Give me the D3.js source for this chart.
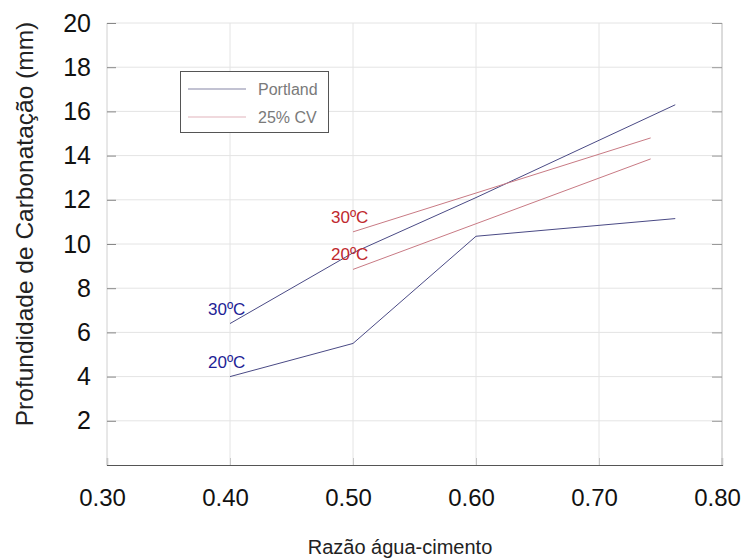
<!DOCTYPE html>
<html><head><meta charset="utf-8">
<script src="https://cdn.jsdelivr.net/npm/d3@7"></script>
<style>body{margin:0;background:#fff}svg{display:block}text{font-family:"Liberation Sans",Arial,sans-serif}</style>
</head><body>
<script>
const xTicks = [0.30, 0.40, 0.50, 0.60, 0.70, 0.80];
const yTicks = [2, 4, 6, 8, 10, 12, 14, 16, 18, 20];
const xPortland = [0.40, 0.50, 0.60, 0.762];
const portland30 = [6.4, 9.6, 12.1, 16.3];
const portland20 = [4.0, 5.5, 10.35, 11.15];
const xCV = [0.50, 0.742];
const cv30 = [10.55, 14.8];
const cv20 = [8.85, 13.85];
const seriesNames = ["Portland", "25% CV"];
const curveLabels = ["30ºC", "20ºC", "30ºC", "20ºC"];

const W = 745, H = 560;
const svg = d3.select("body").append("svg").attr("width", W).attr("height", H);
const x = d3.scaleLinear().domain([0.3, 0.8]).range([107, 722]);
const y = d3.scaleLinear().domain([0, 20]).range([465, 23]);

const gridColor = "#e4e4e4";
svg.append("g").selectAll("line").data(yTicks).join("line")
  .attr("x1", x(0.3)).attr("x2", x(0.8))
  .attr("y1", d => y(d)).attr("y2", d => y(d))
  .attr("stroke", gridColor).attr("stroke-width", 1);
svg.append("g").selectAll("line").data(xTicks.slice(1, -1)).join("line")
  .attr("x1", d => x(d)).attr("x2", d => x(d))
  .attr("y1", y(0)).attr("y2", y(20))
  .attr("stroke", gridColor).attr("stroke-width", 1);

svg.append("line").attr("x1", x(0.3)).attr("x2", x(0.3)).attr("y1", y(0)).attr("y2", y(20)).attr("stroke", "#d0d0d0");
svg.append("line").attr("x1", x(0.8)).attr("x2", x(0.8)).attr("y1", y(0)).attr("y2", y(20)).attr("stroke", "#b8b8b8");

const yAxis = d3.axisLeft(y).tickValues(yTicks).tickSize(-9).tickPadding(16).tickFormat(d3.format("d"));
const gy = svg.append("g").attr("transform", `translate(${x(0.3)},0)`).call(yAxis);
gy.select(".domain").remove();
gy.selectAll(".tick line").attr("stroke", "#888");
gy.selectAll(".tick text").attr("font-size", 25).attr("fill", "#111").attr("font-family", "Liberation Sans, Arial, sans-serif");

const yAxisR = d3.axisRight(y).tickValues(yTicks).tickSize(-10).tickFormat("");
const gyr = svg.append("g").attr("transform", `translate(${x(0.8)},0)`).call(yAxisR);
gyr.select(".domain").remove();
gyr.selectAll(".tick line").attr("stroke", "#999");

const xAxis = d3.axisBottom(x).tickValues(xTicks).tickSize(-7).tickPadding(24).tickFormat(d3.format(".2f"));
const gx = svg.append("g").attr("transform", `translate(0,${y(0)})`).call(xAxis);
gx.select(".domain").attr("stroke", "#555").attr("stroke-width", 1.2);
gx.selectAll(".tick line").attr("stroke", "#c8c8c8");
gx.selectAll(".tick text").attr("font-size", 24).attr("fill", "#111").attr("dx", -5).attr("font-family", "Liberation Sans, Arial, sans-serif");

svg.append("text").attr("x", 400).attr("y", 554).attr("text-anchor", "middle")
  .attr("font-size", 20).attr("fill", "#222").text("Razão água-cimento");
svg.append("text").attr("transform", "translate(33,224) rotate(-90)").attr("text-anchor", "middle")
  .attr("font-size", 24.5).attr("fill", "#222").text("Profundidade de Carbonatação (mm)");

const colP = "#4a4a85", colC = "#c87a84";
const line = d3.line().x(d => x(d[0])).y(d => y(d[1]));
const series = [
  {xs: xPortland, ys: portland30, color: colP, lab: curveLabels[0], labColor: "#1e1e96"},
  {xs: xPortland, ys: portland20, color: colP, lab: curveLabels[1], labColor: "#1e1e96"},
  {xs: xCV, ys: cv30, color: colC, lab: curveLabels[2], labColor: "#c0282e"},
  {xs: xCV, ys: cv20, color: colC, lab: curveLabels[3], labColor: "#c0282e"}
];
series.forEach(s => {
  const pts = s.xs.map((v, i) => [v, s.ys[i]]);
  svg.append("path").attr("d", line(pts)).attr("fill", "none")
    .attr("stroke", s.color).attr("stroke-width", 1);
  svg.append("text").attr("x", x(s.xs[0]) - 22).attr("y", y(s.ys[0]) - 9)
    .attr("font-size", 17).attr("fill", s.labColor).text(s.lab);
});

const lg = svg.append("g");
lg.append("rect").attr("x", 180.5).attr("y", 71.5).attr("width", 148).attr("height", 61)
  .attr("fill", "#fff").attr("stroke", "#555").attr("stroke-width", 1);
[["#8585a5", 89, seriesNames[0]], ["#e2b4bc", 117, seriesNames[1]]].forEach(([c, yy, t]) => {
  lg.append("line").attr("x1", 188).attr("x2", 246).attr("y1", yy).attr("y2", yy).attr("stroke", c).attr("stroke-width", 1.2);
  lg.append("text").attr("x", 258).attr("y", yy + 6).attr("font-size", 16).attr("fill", "#7a7a7a").text(t);
});
</script>
</body></html>
